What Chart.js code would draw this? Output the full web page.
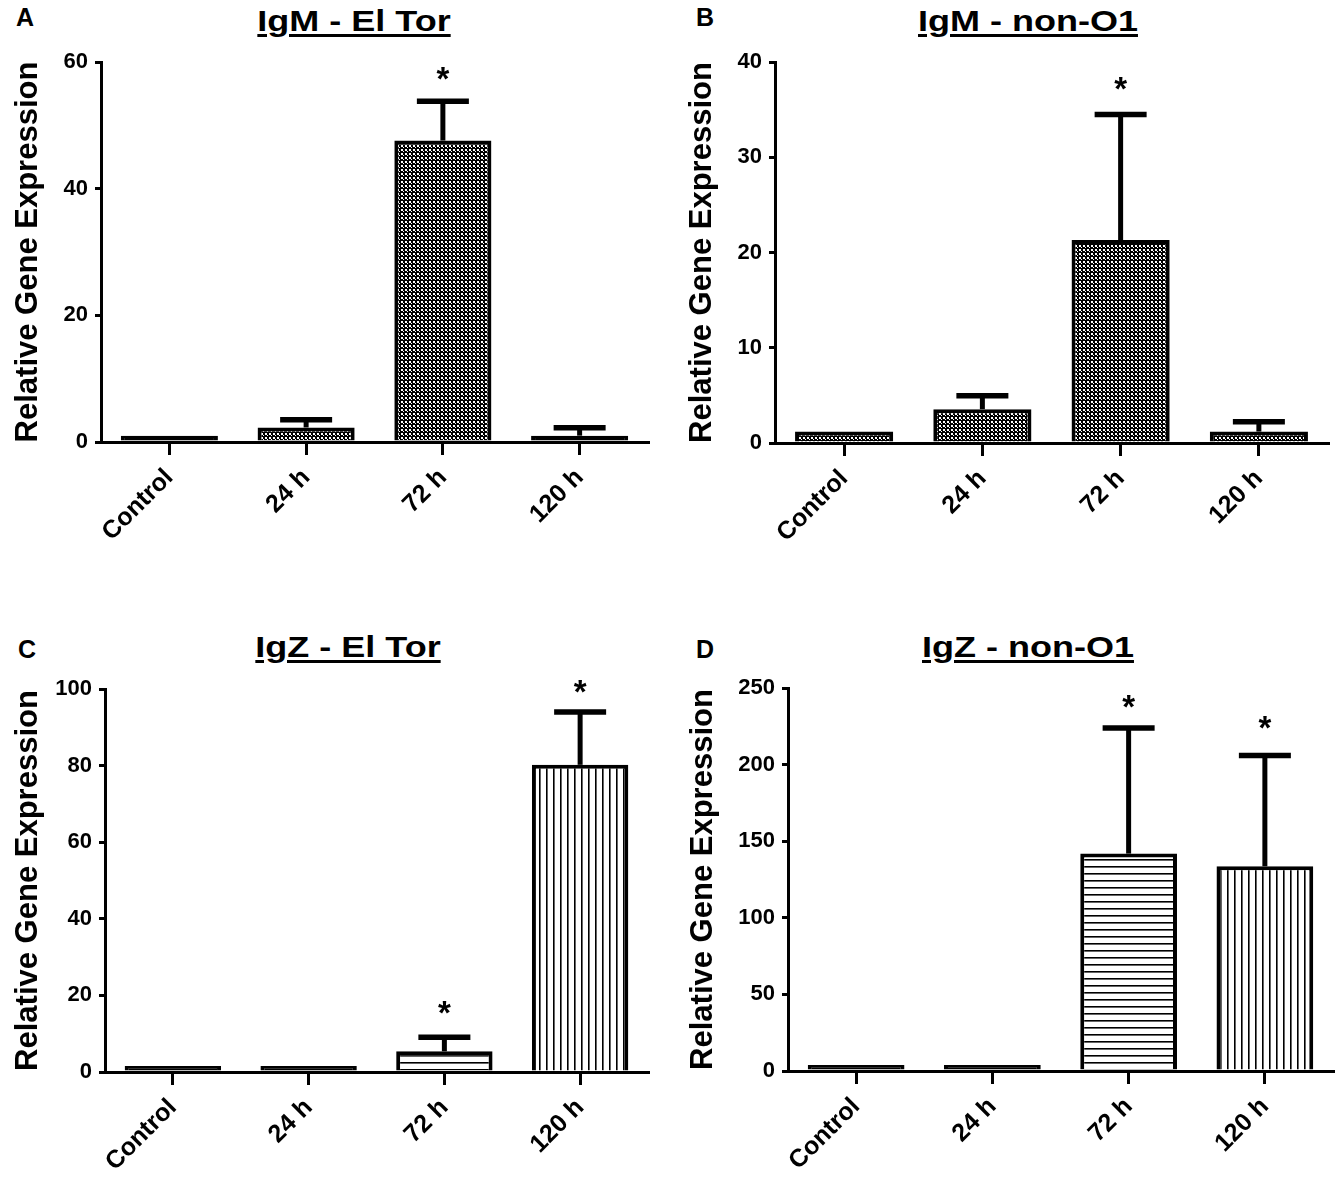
<!DOCTYPE html>
<html>
<head>
<meta charset="utf-8">
<script src="https://cdn.jsdelivr.net/npm/chart.js@4.4.1/dist/chart.umd.min.js"></script>
<style>
  html,body{margin:0;padding:0;background:#fff;}
  #page{position:relative;width:1338px;height:1193px;overflow:hidden;background:#fff;font-family:"Liberation Sans",Arial,sans-serif;}
  .box{position:absolute;}
  .title{position:absolute;width:400px;text-align:center;font-weight:bold;font-size:30px;line-height:30px;color:#000;
         text-decoration:underline;text-decoration-thickness:2.5px;text-underline-offset:3px;transform:scaleX(1.2);transform-origin:center;white-space:nowrap;}
  .letter{position:absolute;font-weight:bold;font-size:25px;line-height:25px;color:#000;}
</style>
</head>
<body>
<div id="page">
  <div class="letter" style="left:16px;top:5px;">A</div>
  <div class="letter" style="left:696px;top:5px;">B</div>
  <div class="letter" style="left:18px;top:637px;">C</div>
  <div class="letter" style="left:696px;top:637px;">D</div>
  <div class="title" style="left:154px;top:6px;">IgM - El Tor</div>
  <div class="title" style="left:828px;top:6px;">IgM - non-O1</div>
  <div class="title" style="left:148px;top:632px;">IgZ - El Tor</div>
  <div class="title" style="left:828px;top:632px;">IgZ - non-O1</div>
  <div class="box" style="left:0px;top:0px;width:669px;height:600px;"><canvas id="cA" width="669" height="600"></canvas></div>
  <div class="box" style="left:674px;top:0px;width:664px;height:600px;"><canvas id="cB" width="664" height="600"></canvas></div>
  <div class="box" style="left:0px;top:600px;width:669px;height:593px;"><canvas id="cC" width="669" height="593"></canvas></div>
  <div class="box" style="left:674px;top:600px;width:664px;height:593px;"><canvas id="cD" width="664" height="593"></canvas></div>
</div>
<script>
// ---------------- DATA ----------------
const categories = ["Control", "24 h", "72 h", "120 h"];

// Panel A: IgM - El Tor
const igmElTorMean = [1.0, 2.3, 47.6, 1.0];
const igmElTorSem  = [0, 1.2, 6.2, 1.25];
const igmElTorStar = [null, null, 58.6, null];
const igmElTorTicks = [0, 20, 40, 60];

// Panel B: IgM - non-O1
const igmNonO1Mean = [1.2, 3.55, 21.3, 1.2];
const igmNonO1Sem  = [0, 1.42, 13.2, 1.04];
const igmNonO1Star = [null, null, 38.0, null];
const igmNonO1Ticks = [0, 10, 20, 30, 40];

// Panel C: IgZ - El Tor
const igzElTorMean = [1.0, 1.0, 5.4, 80.2];
const igzElTorSem  = [0, 0, 3.7, 13.8];
const igzElTorStar = [null, null, 17.4, 101.4];
const igzElTorTicks = [0, 20, 40, 60, 80, 100];

// Panel D: IgZ - non-O1
const igzNonO1Mean = [1.0, 1.0, 141.9, 133.6];
const igzNonO1Sem  = [0, 0, 82.0, 72.4];
const igzNonO1Star = [null, null, 242.9, 229.3];
const igzNonO1Ticks = [0, 50, 100, 150, 200, 250];

const yAxisTitle = "Relative Gene Expression";

// ---------------- PATTERNS ----------------
function makePattern(w, h, bg, fg, draw) {
  const c = document.createElement('canvas');
  c.width = w; c.height = h;
  const g = c.getContext('2d');
  g.fillStyle = bg; g.fillRect(0, 0, w, h);
  g.fillStyle = fg;
  draw(g);
  return c.getContext('2d').createPattern(c, 'repeat');
}
// white dots on black (dense checker)
const checker = makePattern(4, 4, '#000', '#fff', g => { g.fillRect(1, 1, 2, 2); g.fillRect(3, 3, 1, 1); });
const hStripes = makePattern(8, 7, '#fff', '#000', g => { g.fillRect(0, 0, 8, 1.6); });
const vStripes = makePattern(7, 8, '#fff', '#000', g => { g.fillRect(0, 0, 1.6, 8); });

const FONT = '"Liberation Sans", Arial, sans-serif';
Chart.defaults.font.family = FONT;
Chart.defaults.color = '#000';

function makeChart(id, geom, mean, sem, star, ticks, fills) {
  const errPlugin = {
    id: 'errs_' + id,
    afterDatasetsDraw(chart) {
      const ctx = chart.ctx, y = chart.scales.y;
      const meta = chart.getDatasetMeta(0);
      meta.data.forEach((bar, i) => {
        const x0 = bar.x;
        if (sem[i] > 0) {
          const y0 = y.getPixelForValue(mean[i]);
          const y1 = y.getPixelForValue(mean[i] + sem[i]);
          ctx.save();
          ctx.strokeStyle = '#000';
          ctx.lineWidth = 5;
          ctx.beginPath(); ctx.moveTo(x0, y0); ctx.lineTo(x0, y1); ctx.stroke();
          ctx.lineWidth = 5.5;
          ctx.beginPath(); ctx.moveTo(x0 - 26, y1); ctx.lineTo(x0 + 26, y1); ctx.stroke();
          ctx.restore();
        }
        if (star[i] !== null) {
          ctx.save();
          ctx.fillStyle = '#000';
          ctx.font = 'bold 33px ' + FONT;
          ctx.textAlign = 'center';
          ctx.textBaseline = 'alphabetic';
          ctx.fillText('*', x0, y.getPixelForValue(star[i]) + 19);
          ctx.restore();
        }
      });
    }
  };
  return new Chart(document.getElementById(id), {
    type: 'bar',
    data: {
      labels: categories,
      datasets: [{
        data: mean,
        backgroundColor: fills,
        borderColor: '#000',
        borderWidth: 4,
        borderSkipped: 'start',
        minBarLength: 6,
        barPercentage: 0.71,
        categoryPercentage: 1.0
      }]
    },
    options: {
      responsive: false,
      animation: false,
      events: [],
      layout: { padding: { left: 0, top: geom.top, right: geom.right, bottom: 0 } },
      plugins: { legend: { display: false }, tooltip: { enabled: false }, title: { display: false } },
      scales: {
        x: {
          offset: true,
          afterFit: s => { s.height = geom.xh; },
          grid: { offset: false, drawOnChartArea: false, drawTicks: true, tickLength: 13, color: '#000', lineWidth: 3 },
          border: { display: true, color: '#000', width: 3 },
          ticks: { autoSkip: false, maxRotation: 45, minRotation: 45, padding: 8, color: '#000',
                   font: { family: FONT, size: 25, weight: 'bold' } }
        },
        y: {
          min: 0,
          max: ticks[ticks.length - 1],
          afterFit: s => { s.width = geom.yw; },
          afterBuildTicks: s => { s.ticks = ticks.map(v => ({ value: v })); },
          grid: { drawOnChartArea: false, drawTicks: true, tickLength: 6, color: '#000', lineWidth: 3 },
          border: { display: true, color: '#000', width: 3 },
          ticks: { padding: 7, color: '#000', font: { family: FONT, size: 22, weight: 'bold' } },
          title: { display: true, text: yAxisTitle, color: '#000',
                   padding: { top: geom.tpad, bottom: 0 },
                   font: { family: FONT, size: 31, weight: 'bold' } }
        }
      }
    },
    plugins: [errPlugin]
  });
}

makeChart('cA', { top: 62, right: 21, xh: 158, yw: 101, tpad: 10 },
  igmElTorMean, igmElTorSem, igmElTorStar, igmElTorTicks, ['#000', checker, checker, '#000']);
makeChart('cB', { top: 62, right: 10, xh: 157, yw: 101, tpad: 10 },
  igmNonO1Mean, igmNonO1Sem, igmNonO1Star, igmNonO1Ticks, [checker, checker, checker, checker]);
makeChart('cC', { top: 89, right: 21, xh: 121, yw: 105, tpad: 10 },
  igzElTorMean, igzElTorSem, igzElTorStar, igzElTorTicks, ['#000', '#000', hStripes, vStripes]);
makeChart('cD', { top: 88, right: 5, xh: 122, yw: 114, tpad: 11 },
  igzNonO1Mean, igzNonO1Sem, igzNonO1Star, igzNonO1Ticks, ['#000', '#000', hStripes, vStripes]);
</script>
</body>
</html>
